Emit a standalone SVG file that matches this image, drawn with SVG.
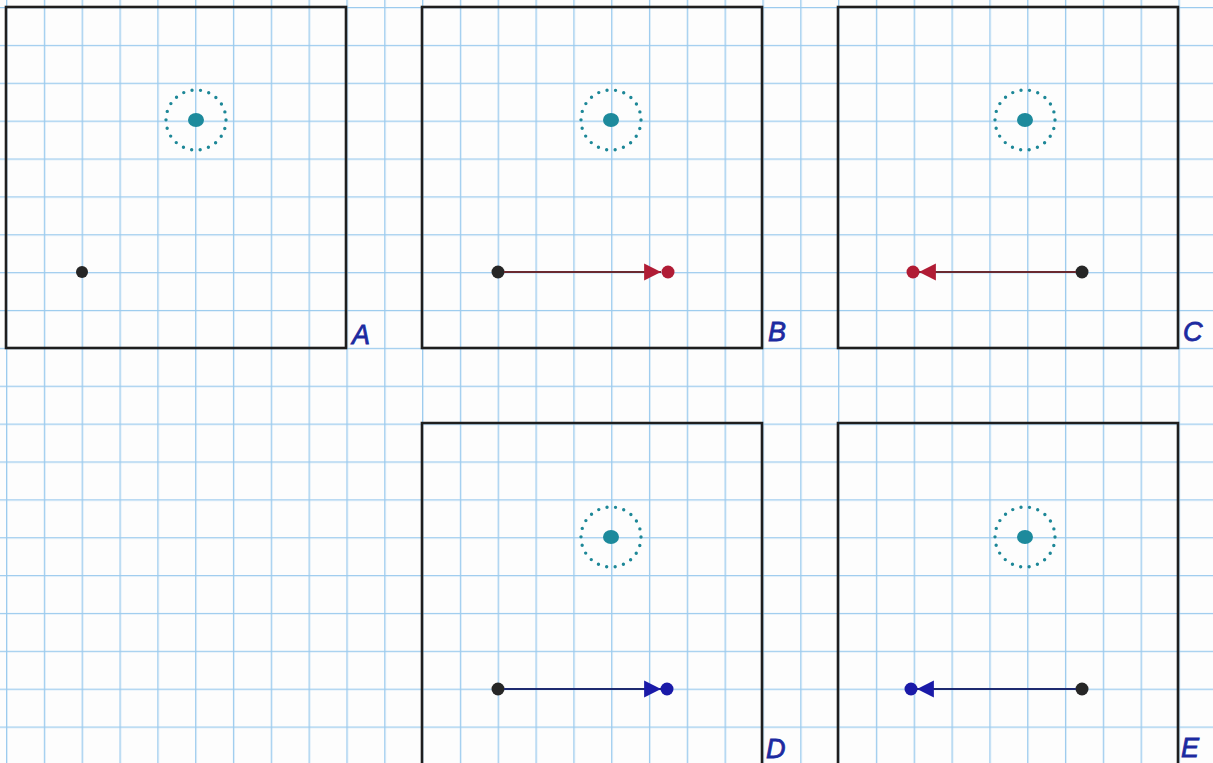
<svg xmlns="http://www.w3.org/2000/svg" width="1213" height="763" viewBox="0 0 1213 763">
<style>
.frame{fill:none;stroke:#1e1e1e;stroke-width:2.6}
.ring{fill:none;stroke:#1d8797;stroke-width:3.4;stroke-linecap:round;stroke-dasharray:0 8.57}
.core{fill:#1d8a9c}
.blk{fill:#262626}
.red{fill:#b01c35}
.blu{fill:#1a1aa8}
.lred{stroke:#6a2a30;stroke-width:2}
.lblu{stroke:#1e2a70;stroke-width:2}
.lab{font-family:"Liberation Sans",Arial,sans-serif;font-style:italic;font-size:27px;fill:#1c2aa0;stroke:#1c2aa0;stroke-width:0.8}
</style>
<defs>
<pattern id="grid" patternUnits="userSpaceOnUse" x="6" y="7" width="37.82" height="37.87">
<path d="M0.5 0V37.87M0 0.5H37.82" stroke="#9ccbee" stroke-width="1.7" fill="none"/>
</pattern>
<marker id="arR" markerUnits="userSpaceOnUse" markerWidth="18" markerHeight="18" viewBox="0 0 16 16" refX="15" refY="8" orient="auto">
<path d="M0 0.5L15 8L0 15.5Z" fill="#b01c35"/>
</marker>
<marker id="arB" markerUnits="userSpaceOnUse" markerWidth="18" markerHeight="18" viewBox="0 0 16 16" refX="15" refY="8" orient="auto">
<path d="M0 0.5L15 8L0 15.5Z" fill="#1a1aa8"/>
</marker>
</defs>
<rect width="1213" height="763" fill="#fdfdfd"/>
<rect width="1213" height="763" fill="url(#grid)"/>

<g id="panelA">
<rect class="frame" x="6" y="7" width="340" height="341"/>
<circle class="ring" cx="196" cy="120" r="30"/>
<ellipse class="core" cx="196" cy="120" rx="8" ry="7"/>
<circle class="blk" cx="82" cy="272" r="6"/>
<text class="lab" x="352" y="344">A</text>
</g>
<g id="panelB">
<rect class="frame" x="422" y="7" width="340" height="341"/>
<circle class="ring" cx="611" cy="120" r="30"/>
<ellipse class="core" cx="611" cy="120" rx="8" ry="7"/>
<circle class="blk" cx="498" cy="272" r="6.5"/>
<circle class="red" cx="668" cy="272" r="6.5"/>
<text class="lab" x="768" y="341">B</text>
</g>
<g id="panelC">
<rect class="frame" x="838" y="7" width="340" height="341"/>
<circle class="ring" cx="1025" cy="120" r="30"/>
<ellipse class="core" cx="1025" cy="120" rx="8" ry="7"/>
<circle class="blk" cx="1082" cy="272" r="6.5"/>
<circle class="red" cx="913" cy="272" r="6.5"/>
<text class="lab" x="1183" y="341">C</text>
</g>
<g id="panelD">
<path class="frame" d="M422 764V423H762V764"/>
<circle class="ring" cx="611" cy="537" r="30"/>
<ellipse class="core" cx="611" cy="537" rx="8" ry="7"/>
<circle class="blk" cx="498" cy="689" r="6.5"/>
<circle class="blu" cx="667" cy="689" r="6.5"/>
<text class="lab" x="766" y="758">D</text>
</g>
<g id="panelE">
<path class="frame" d="M838 764V423H1178V764"/>
<circle class="ring" cx="1025" cy="537" r="30"/>
<ellipse class="core" cx="1025" cy="537" rx="8" ry="7"/>
<circle class="blk" cx="1082" cy="689" r="6.5"/>
<circle class="blu" cx="911" cy="689" r="6.5"/>
<text class="lab" x="1181" y="757">E</text>
</g>

<g id="connectors">
<line class="lred" x1="504" y1="272" x2="661" y2="272" marker-end="url(#arR)"/>
<line class="lred" x1="1076" y1="272" x2="919" y2="272" marker-end="url(#arR)"/>
<line class="lblu" x1="504" y1="689" x2="661" y2="689" marker-end="url(#arB)"/>
<line class="lblu" x1="1076" y1="689" x2="917" y2="689" marker-end="url(#arB)"/>
</g>
</svg>
